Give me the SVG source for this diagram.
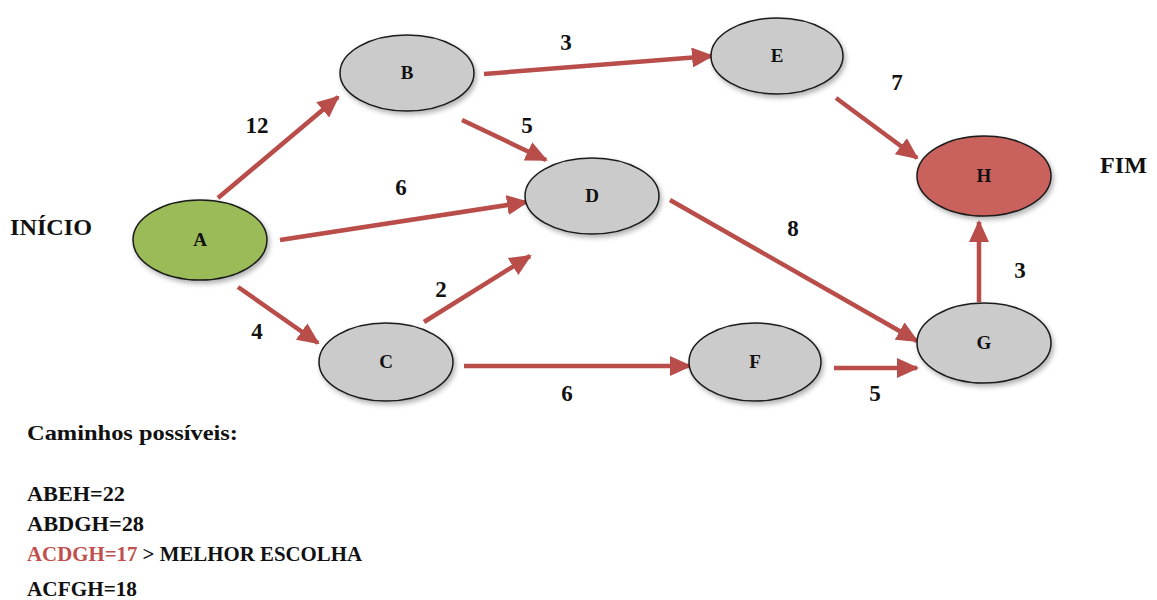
<svg xmlns="http://www.w3.org/2000/svg" width="1157" height="600" viewBox="0 0 1157 600">
<style>
.node ellipse{stroke:#1a1a1a;stroke-width:1.5;filter:url(#sh)}
.gray{fill:#cbcbcb}
.green{fill:#9bbb59}
.red{fill:#c9625c}
.lbl{font-family:"Liberation Serif","DejaVu Serif",serif;font-weight:bold;font-size:19px;fill:#111;text-anchor:middle}
.num{font-family:"Liberation Serif","DejaVu Serif",serif;font-weight:bold;font-size:23px;fill:#111;text-anchor:middle}
.big{font-family:"Liberation Serif","DejaVu Serif",serif;font-weight:bold;font-size:23px;fill:#111}
.txt{font-family:"Liberation Serif","DejaVu Serif",serif;font-weight:bold;font-size:20px;fill:#111}
.edge{stroke:#b94d4a;stroke-width:4.5;fill:none;marker-end:url(#ah)}
</style>
<defs>
<filter id="sh" x="-20%" y="-20%" width="150%" height="150%">
<feDropShadow dx="2" dy="3" stdDeviation="2.5" flood-color="#000" flood-opacity="0.3"/>
</filter>
<marker id="ah" markerUnits="userSpaceOnUse" markerWidth="22" markerHeight="20" refX="20" refY="10" orient="auto">
<path d="M0,0 L22,10 L0,20 Z" fill="#b94d4a"/>
</marker>
</defs>
<g id="connectors">
<line class="edge" x1="218" y1="198" x2="338" y2="97"/>
<line class="edge" x1="280" y1="240" x2="527" y2="202"/>
<line class="edge" x1="238" y1="287" x2="318" y2="343"/>
<line class="edge" x1="484" y1="74" x2="712" y2="56"/>
<line class="edge" x1="462" y1="120" x2="546" y2="160"/>
<line class="edge" x1="424" y1="322" x2="530" y2="256"/>
<line class="edge" x1="464" y1="366" x2="690" y2="366"/>
<line class="edge" x1="670" y1="200" x2="917" y2="341"/>
<line class="edge" x1="836" y1="98" x2="917" y2="158"/>
<line class="edge" x1="834" y1="368" x2="917" y2="368"/>
<line class="edge" x1="979" y1="302" x2="979" y2="222"/>
</g>
<g id="edge-labels">
<text class="num" x="257" y="133">12</text>
<text class="num" x="566" y="50">3</text>
<text class="num" x="527" y="133">5</text>
<text class="num" x="401" y="195">6</text>
<text class="num" x="897" y="90">7</text>
<text class="num" x="793" y="236">8</text>
<text class="num" x="441" y="297">2</text>
<text class="num" x="257" y="339">4</text>
<text class="num" x="567" y="401">6</text>
<text class="num" x="875" y="401">5</text>
<text class="num" x="1020" y="278">3</text>
</g>
<g id="node-A" class="node"><ellipse class="green" cx="200" cy="240" rx="67" ry="40"/><text class="lbl" x="200" y="246">A</text></g>
<g id="node-B" class="node"><ellipse class="gray" cx="407" cy="73" rx="67" ry="38"/><text class="lbl" x="407" y="79">B</text></g>
<g id="node-C" class="node"><ellipse class="gray" cx="386" cy="362" rx="67" ry="39"/><text class="lbl" x="386" y="368">C</text></g>
<g id="node-D" class="node"><ellipse class="gray" cx="592" cy="196" rx="67" ry="38"/><text class="lbl" x="592" y="202">D</text></g>
<g id="node-E" class="node"><ellipse class="gray" cx="777" cy="56" rx="66" ry="38"/><text class="lbl" x="777" y="62">E</text></g>
<g id="node-F" class="node"><ellipse class="gray" cx="755" cy="362" rx="66" ry="39"/><text class="lbl" x="755" y="368">F</text></g>
<g id="node-G" class="node"><ellipse class="gray" cx="984" cy="343" rx="67" ry="40"/><text class="lbl" x="984" y="349">G</text></g>
<g id="node-H" class="node"><ellipse class="red" cx="984" cy="176" rx="67" ry="40"/><text class="lbl" x="984" y="182">H</text></g>
<g id="labels">
<text class="big" x="10" y="235" textLength="82" lengthAdjust="spacingAndGlyphs">INÍCIO</text>
<text class="big" x="1100" y="173" textLength="47" lengthAdjust="spacingAndGlyphs">FIM</text>
<text class="txt" x="27" y="440" textLength="211" lengthAdjust="spacingAndGlyphs">Caminhos possíveis:</text>
<text class="txt" x="27" y="501" textLength="98" lengthAdjust="spacingAndGlyphs">ABEH=22</text>
<text class="txt" x="27" y="531" textLength="117" lengthAdjust="spacingAndGlyphs">ABDGH=28</text>
<text class="txt" x="27" y="561" textLength="335" lengthAdjust="spacingAndGlyphs"><tspan fill="#c0504d">ACDGH=17</tspan> &gt; MELHOR ESCOLHA</text>
<text class="txt" x="27" y="596" textLength="110" lengthAdjust="spacingAndGlyphs">ACFGH=18</text>
</g>
</svg>
